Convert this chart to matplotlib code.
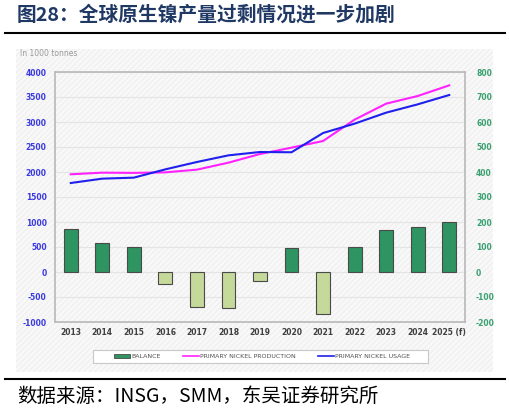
import matplotlib.pyplot as plt
from matplotlib.patches import Rectangle
from matplotlib.lines import Line2D
from matplotlib.patches import Patch
import numpy as np

plt.rcParams['font.family'] = ['Noto Sans CJK SC', 'DejaVu Sans']
plt.rcParams['hatch.linewidth'] = 0.6

years = ['2013', '2014', '2015', '2016', '2017', '2018', '2019',
         '2020', '2021', '2022', '2023', '2024', '2025 (f)']
balance = [172, 117, 100, -46, -140, -144, -36, 97, -168, 100, 170, 180, 199]
production = [1954, 1987, 1982, 1993, 2047, 2187, 2360, 2487, 2620, 3047, 3367, 3520, 3733]
usage = [1780, 1867, 1887, 2053, 2200, 2333, 2400, 2395, 2780, 2967, 3187, 3353, 3540]

left_ticks = [-1000, -500, 0, 500, 1000, 1500, 2000, 2500, 3000, 3500, 4000]
right_ticks = [-200, -100, 0, 100, 200, 300, 400, 500, 600, 700, 800]

W, H = 510, 412
fig = plt.figure(figsize=(W / 100, H / 100), dpi=100)

# hatched panel behind the chart
panel = Rectangle((16 / W, 1 - 372 / H), (493 - 16) / W, (372 - 49) / H,
                  transform=fig.transFigure, facecolor='#f8f8f8',
                  edgecolor='#ececec', hatch='//////', linewidth=0, zorder=-5)
fig.patches.append(panel)

ax = fig.add_axes([55 / W, 1 - 322 / H, (465 - 55) / W, (322 - 72) / H])
ax.set_facecolor('none')
ax2 = ax.twinx()
x = np.arange(len(years))

# bars on the first axis, scale shown on the right
cols = ['#2e9462' if v >= 0 else '#c5d99a' for v in balance]
ax.bar(x, balance, width=0.44, color=cols, edgecolor='#4a4a4a', linewidth=0.8, zorder=3)
ax.set_ylim(-200, 800)
ax.set_xlim(-0.5, len(years) - 0.5)
ax.yaxis.tick_right()
ax.set_yticks(right_ticks)
ax.set_yticklabels([str(t) for t in right_ticks], color='#3aa070', fontsize=5.5, fontweight='bold',
                   family='DejaVu Sans')
ax.tick_params(axis='y', length=0, pad=8)
ax.set_xticks(x)
ax.set_xticklabels(years, fontsize=5.5, fontweight='bold', color='#404040', family='DejaVu Sans')
ax.tick_params(axis='x', length=0, pad=4)
for t in right_ticks:
    ax.axhline(t, color='#e4e4e4', linewidth=0.8, zorder=1)
for s in ax.spines.values():
    s.set_color('#b8b8b8')
    s.set_linewidth(1.2)

# lines on the twin axis, scale shown on the left
ax2.plot(x, production, color='#ff22ff', linewidth=1.5, zorder=4)
ax2.plot(x, usage, color='#2020ee', linewidth=1.5, zorder=4)
ax2.set_ylim(-1000, 4000)
ax2.yaxis.tick_left()
ax2.set_yticks(left_ticks)
ax2.set_yticklabels([str(t) for t in left_ticks], color='#3a3ae0', fontsize=5.5, fontweight='bold',
                    family='DejaVu Sans')
ax2.tick_params(axis='y', length=0, pad=6)
for s in ax2.spines.values():
    s.set_visible(False)

fig.text(20 / W, 1 - 53 / H, 'In 1000 tonnes', fontsize=5.5, color='#9a9a9a',
         family='DejaVu Sans', va='center')

# legend with its own frame
fig.patches.append(Rectangle((93 / W, 1 - 363 / H), (428 - 93) / W, 13 / H,
                             transform=fig.transFigure, facecolor='white',
                             edgecolor='#c8c8c8', linewidth=0.8, zorder=1))
handles = [Patch(facecolor='#2e9462', edgecolor='#4a4a4a', linewidth=0.6),
           Line2D([], [], color='#ff22ff', linewidth=1.2),
           Line2D([], [], color='#2020ee', linewidth=1.2)]
labels = ['BALANCE', 'PRIMARY NICKEL PRODUCTION', 'PRIMARY NICKEL USAGE']
leg = fig.legend(handles, labels, loc='center', bbox_to_anchor=(262 / W, 1 - 356.5 / H),
                 ncol=3, frameon=False, handlelength=2.6, handleheight=0.6,
                 handletextpad=0.1, columnspacing=3.6,
                 prop={'family': 'DejaVu Sans', 'size': 4.5})
for t in leg.get_texts():
    t.set_color('#505050')

# title and source
fig.text(17 / W, 1 - 15 / H, '图28：全球原生镍产量过剩情况进一步加剧', fontsize=14.2,
         fontweight='bold', color='#1f3864', va='center')
fig.add_artist(Line2D([5 / W, 505 / W], [1 - 33 / H, 1 - 33 / H], color='black',
                      linewidth=1.5, transform=fig.transFigure))
fig.add_artist(Line2D([5 / W, 505 / W], [1 - 379 / H, 1 - 379 / H], color='black',
                      linewidth=1.5, transform=fig.transFigure))
fig.text(17 / W, 1 - 396 / H, '数据来源：INSG，SMM，东吴证券研究所', fontsize=14,
         color='black', va='center')

fig.savefig('out.png', dpi=100)
